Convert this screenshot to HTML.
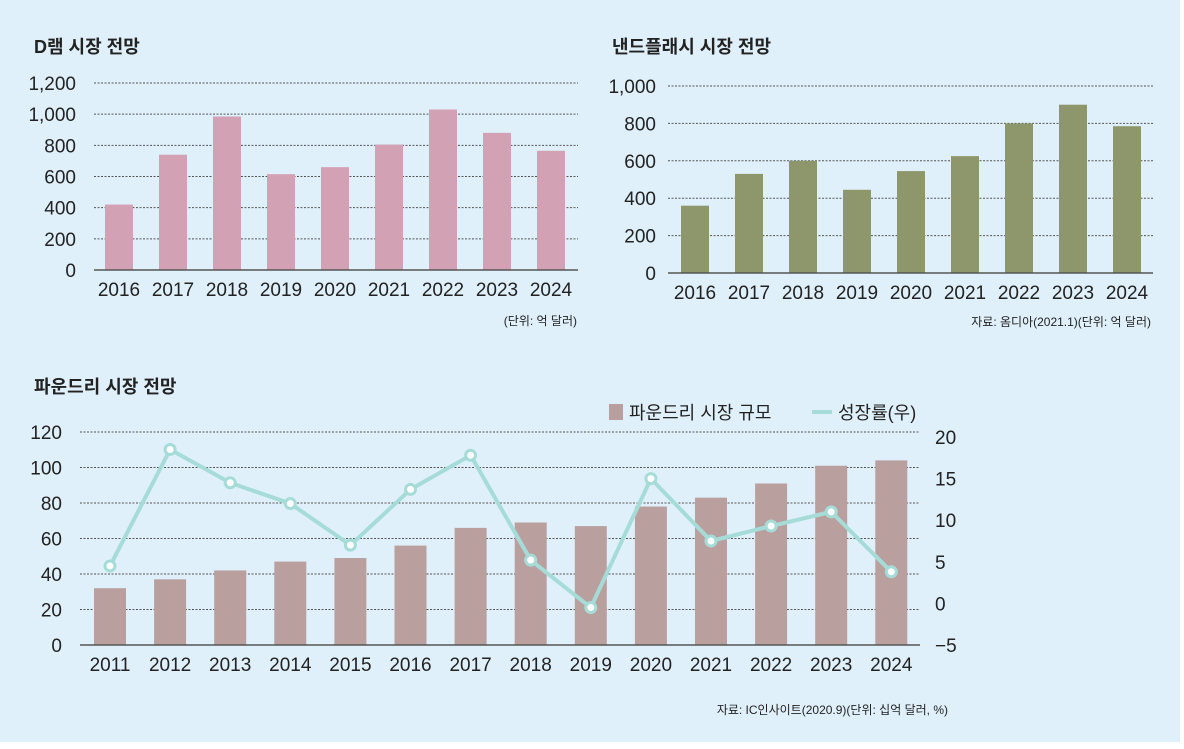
<!DOCTYPE html>
<html><head><meta charset="utf-8">
<style>
body{margin:0;width:1184px;height:749px;background:#fff;overflow:hidden;font-family:"Liberation Sans","Noto Sans CJK KR",sans-serif}
#bg{position:absolute;left:0;top:0;width:1180px;height:742px;background:#dff0fa}
svg{position:absolute;left:0;top:0}
text{font-family:"Liberation Sans","Noto Sans CJK KR",sans-serif;fill:#222}
</style></head><body>
<div id="bg"></div>
<svg id="s" width="1184" height="749"></svg>
<script>
const dramYears=["2016","2017","2018","2019","2020","2021","2022","2023","2024"];
const dramValues=[420,740,985,615,660,805,1030,880,765];
const dramTicks=[0,200,400,600,800,1000,1200];
const nandYears=["2016","2017","2018","2019","2020","2021","2022","2023","2024"];
const nandValues=[360,530,600,445,545,625,800,900,785];
const nandTicks=[0,200,400,600,800,1000];
const fYears=["2011","2012","2013","2014","2015","2016","2017","2018","2019","2020","2021","2022","2023","2024"];
const fValues=[32,37,42,47,49,56,66,69,67,78,83,91,101,104];
const fGrowth=[4.5,18.5,14.5,12,7,13.7,17.8,5.2,-0.5,15,7.5,9.3,11,3.8];
const fTicksL=[0,20,40,60,80,100,120];
const fTicksR=[-5,0,5,10,15,20];

const NS="http://www.w3.org/2000/svg";
const svg=document.getElementById('s');
function el(tag,attrs,parent){const e=document.createElementNS(NS,tag);for(const k in attrs)e.setAttribute(k,attrs[k]);(parent||svg).appendChild(e);return e;}
function txt(x,y,s,size,anchor,weight,parent){const t=el('text',{x:x,y:y,'font-size':size,'text-anchor':anchor||'start','font-weight':weight||'normal'},parent);t.textContent=s;return t;}
function fmt(v){return v>=1000?v.toLocaleString('en-US'):String(v);}

function barChart(name,years,vals,ticks,cfg){
  const g=el('g',{});
  
  
  const max=ticks[ticks.length-1];
  const y=v=>cfg.y0-(v/max)*(cfg.y0-cfg.yTop);
  const x=i=>cfg.x0+i*cfg.step;
  ticks.forEach(t=>{
    if(t>0){const l=el('line',{x1:cfg.gx1,x2:cfg.gx2,y1:y(t),y2:y(t),stroke:'#555','stroke-width':1,'stroke-dasharray':'2,1.5'},g);
    
    }
    const lb=txt(cfg.lx,y(t)+7,fmt(t),19,'end','normal',g);
    
    
  });
  vals.forEach((v,i)=>{
    const r=el('rect',{x:x(i)-cfg.bw/2,y:y(v),width:cfg.bw,height:cfg.y0-y(v),fill:cfg.color},g);
    
    
    const t=txt(x(i),cfg.y0+26,years[i],19,'middle','normal',g);
    
    
  });
  const ax=el('line',{x1:cfg.gx1,x2:cfg.gx2,y1:cfg.y0,y2:cfg.y0,stroke:'#555','stroke-width':1.5},g);
  
  
  return {g,y,x};
}

let t;
t=txt(34,53,'D램 시장 전망',18,'start','bold');

barChart('dram-chart',dramYears,dramValues,dramTicks,{x0:119,step:54,bw:28,y0:270,yTop:83,gx1:94,gx2:578,lx:76,color:'#d3a1b4'});
t=txt(577,325,'(단위: 억 달러)',12,'end');


t=txt(612,53,'낸드플래시 시장 전망',18,'start','bold');

barChart('nand-chart',nandYears,nandValues,nandTicks,{x0:695,step:54,bw:28,y0:273,yTop:86,gx1:668,gx2:1153,lx:656,color:'#8d976b'});
t=txt(1151,326,'자료: 옴디아(2021.1)(단위: 억 달러)',12,'end');


t=txt(34,393,'파운드리 시장 전망',18,'start','bold');

const fc=barChart('foundry-chart',fYears,fValues,fTicksL,{x0:110,step:60.1,bw:32,y0:645,yTop:432,gx1:80,gx2:920,lx:62,color:'#b9a09f'});
// right axis
const yr=v=>645-(v+5)/25*(645-437);
fTicksR.forEach(v=>{const lb=txt(935,yr(v)+7,v<0?'−'+Math.abs(v):String(v),19,'start','normal');
});
const pts=fGrowth.map((v,i)=>fc.x(i)+','+yr(v)).join(' ');
const pl=el('polyline',{points:pts,fill:'none',stroke:'#a6dcd8','stroke-width':4,'stroke-linejoin':'round'});

fGrowth.forEach((v,i)=>{const c=el('circle',{cx:fc.x(i),cy:yr(v),r:5,fill:'#fff',stroke:'#a6dcd8','stroke-width':3});
});
// legend
const lg=el('g',{});

el('rect',{x:609,y:404,width:14,height:16,fill:'#b9a09f'},lg);
txt(629,419,'파운드리 시장 규모',18,'start','normal',lg);
el('line',{x1:812,x2:832,y1:412,y2:412,stroke:'#a6dcd8','stroke-width':4},lg);
txt(838,419,'성장률(우)',18,'start','normal',lg);
t=txt(948,714,'자료: IC인사이트(2020.9)(단위: 십억 달러, %)',12,'end');

</script>
</body></html>
